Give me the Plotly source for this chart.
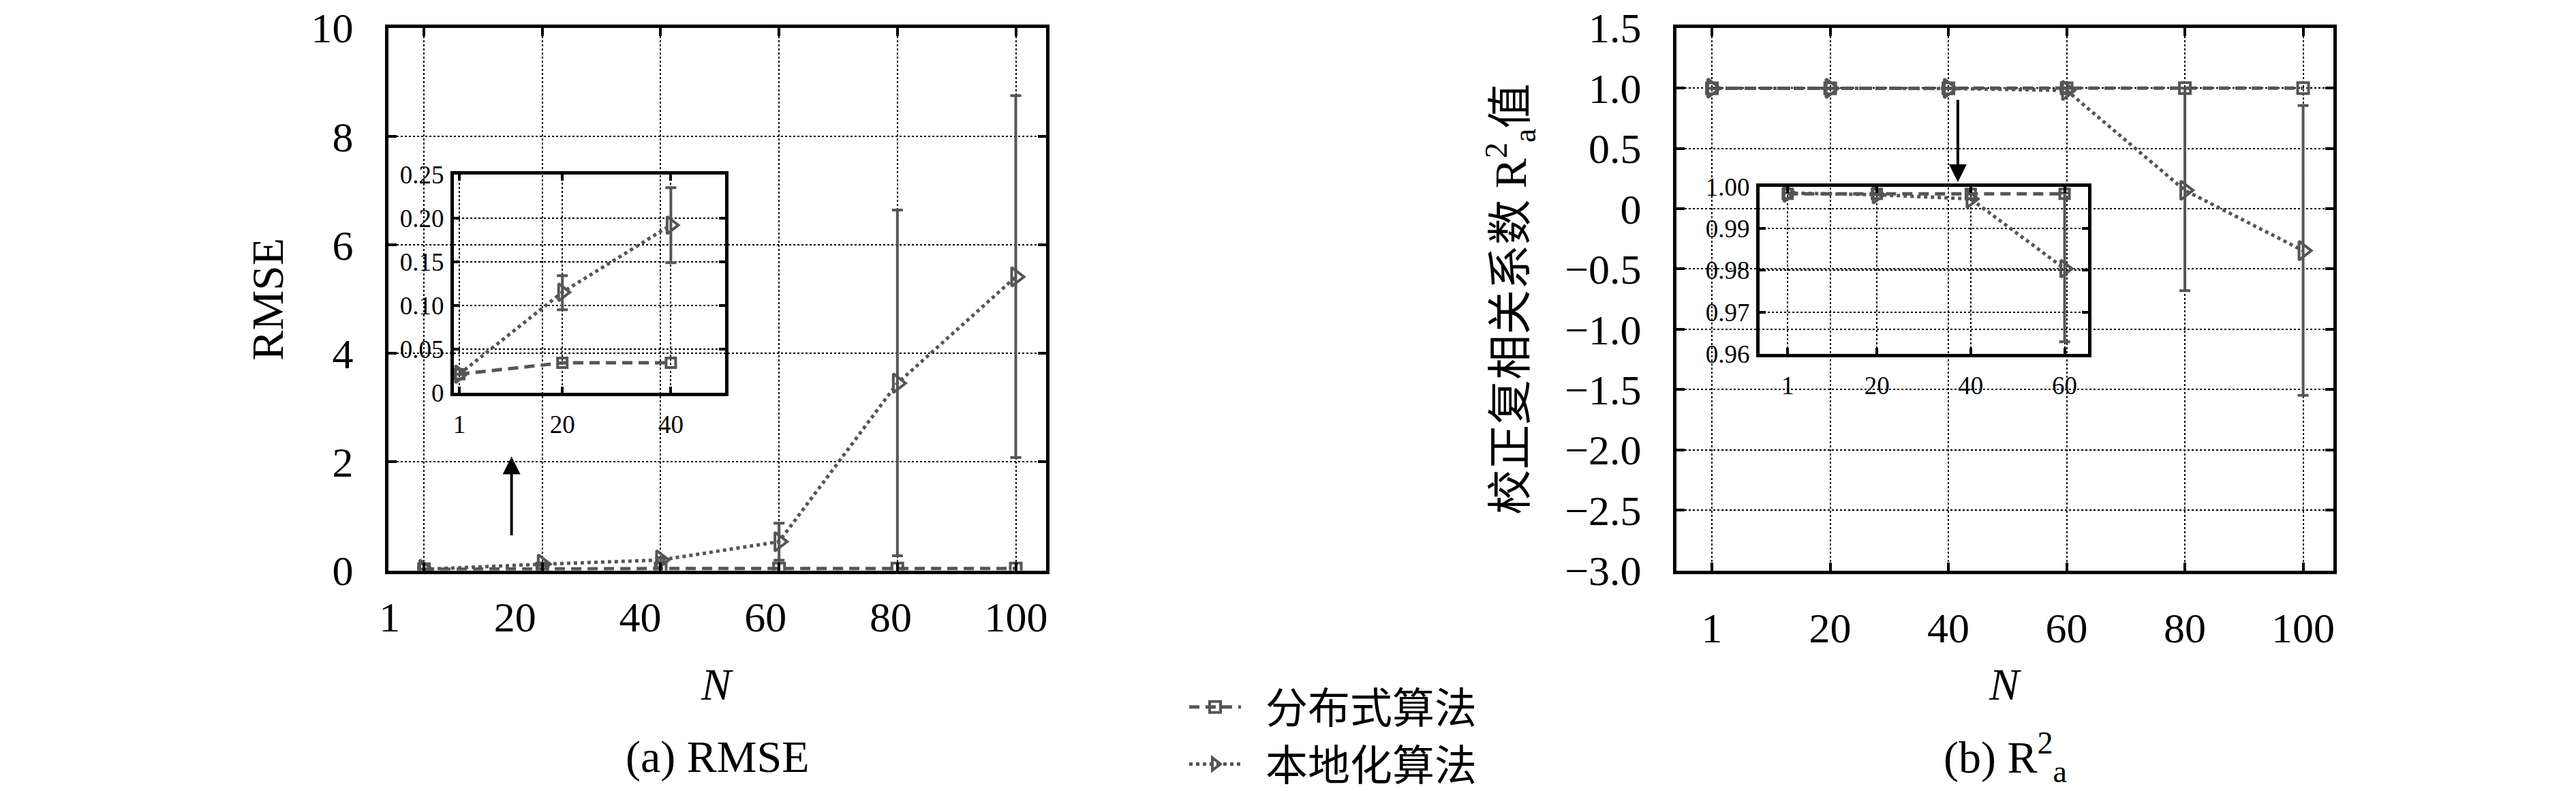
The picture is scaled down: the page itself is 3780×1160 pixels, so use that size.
import plotly.graph_objects as go

# ---- data ----
N_LABELS = ["1", "20", "40", "60", "80", "100"]
N_POS = [0, 1, 2, 3, 4, 5]
N_INSET_A = [1, 20, 40]
N_INSET_B = [1, 20, 40, 60]

rmse_dist = [0.021, 0.034, 0.034, 0.035, 0.035, 0.035]
rmse_local = [0.021, 0.115, 0.192, 0.53, 3.45, 5.41]
rmse_local_hi = [0.021, 0.134, 0.235, 0.87, 6.64, 8.75]
rmse_local_lo = [0.021, 0.095, 0.149, 0.19, 0.27, 2.08]

r2_dist = [0.9983, 0.9983, 0.9983, 0.9983, 0.9995, 0.9995]
r2_local = [0.9985, 0.9981, 0.9971, 0.9804, 0.152, -0.348]
r2_local_hi = [0.9985, 0.9981, 0.9971, 0.9985, 1.0, 0.855]
r2_local_lo = [0.9985, 0.9981, 0.9971, 0.9629, -0.68, -1.548]

RMSE_TICKS = [0, 2, 4, 6, 8, 10]
R2_TICKS = [-3.0, -2.5, -2.0, -1.5, -1.0, -0.5, 0, 0.5, 1.0, 1.5]
R2_TICKTEXT = ["\u22123.0", "\u22122.5", "\u22122.0", "\u22121.5", "\u22121.0",
               "\u22120.5", "0", "0.5", "1.0", "1.5"]
INSET_A_TICKS = [0, 0.05, 0.10, 0.15, 0.20, 0.25]
INSET_A_TICKTEXT = ["0", "0.05", "0.10", "0.15", "0.20", "0.25"]
INSET_B_TICKS = [0.96, 0.97, 0.98, 0.99, 1.00]
INSET_B_TICKTEXT = ["0.96", "0.97", "0.98", "0.99", "1.00"]

NAMES = ["分布式算法", "本地化算法"]

# ---- styling ----
W, H = 3780, 1160
GRAY = "#555555"
FONT = "Liberation Serif, Noto Sans CJK SC, serif"
GAP = "\u2002"  # a little air between legend symbol and label


def dx(a, b):
    return [a / W, b / W]


def dy(top, bottom):
    return [1 - bottom / H, 1 - top / H]


def err(vals, hi, lo):
    return dict(type="data", symmetric=False,
                array=[h - v for v, h in zip(vals, hi)],
                arrayminus=[v - l for v, l in zip(vals, lo)],
                color=GRAY, thickness=4, width=8)


def dist_trace(x, y, xa, ya, legend=False, size=16):
    return go.Scatter(x=x, y=y, xaxis=xa, yaxis=ya, name=GAP + NAMES[0],
                      mode="lines+markers", showlegend=legend,
                      line=dict(color=GRAY, width=5, dash="15px,9px"),
                      marker=dict(symbol="square-open", size=size, color=GRAY,
                                  line=dict(width=4, color=GRAY)))


def local_trace(x, y, e, xa, ya, legend=False, size=24):
    return go.Scatter(x=x, y=y, xaxis=xa, yaxis=ya, name=GAP + NAMES[1],
                      mode="lines+markers", showlegend=legend, error_y=e,
                      line=dict(color=GRAY, width=5, dash="dot"),
                      marker=dict(symbol="triangle-right-open", size=size,
                                  color=GRAY, line=dict(width=4, color=GRAY)))


fig = go.Figure()

# left panel: RMSE
fig.add_trace(dist_trace(N_POS, rmse_dist, "x", "y", legend=True))
fig.add_trace(local_trace(N_POS, rmse_local,
                          err(rmse_local, rmse_local_hi, rmse_local_lo),
                          "x", "y", legend=True))
# tick-label axis of the left panel (labels sit off the grid in the reference)
fig.add_trace(go.Scatter(x=[0], y=[None], xaxis="x5", yaxis="y",
                         showlegend=False, hoverinfo="skip"))
# left inset
k = len(N_INSET_A)
fig.add_trace(dist_trace(N_INSET_A, rmse_dist[:k], "x2", "y2", size=14))
fig.add_trace(local_trace(N_INSET_A, rmse_local[:k],
                          err(rmse_local[:k], rmse_local_hi[:k], rmse_local_lo[:k]),
                          "x2", "y2", size=22))

# right panel: R2
fig.add_trace(dist_trace(N_POS, r2_dist, "x3", "y3"))
fig.add_trace(local_trace(N_POS, r2_local,
                          err(r2_local, r2_local_hi, r2_local_lo), "x3", "y3"))
# right inset
k = len(N_INSET_B)
fig.add_trace(dist_trace(N_INSET_B, r2_dist[:k], "x4", "y4", size=14))
fig.add_trace(local_trace(N_INSET_B, r2_local[:k],
                          err(r2_local[:k], r2_local_hi[:k], r2_local_lo[:k]),
                          "x4", "y4", size=22))

frame = dict(showline=True, linecolor="black", linewidth=5, mirror="ticks",
             ticks="inside", tickcolor="black", tickwidth=4, automargin=False,
             showgrid=True, gridcolor="black", gridwidth=2, griddash="dot",
             zeroline=False, ticklabeloverflow="allow",
             tickfont=dict(family=FONT, size=62, color="black"))
inset = dict(frame, ticklen=9, tickfont=dict(family=FONT, size=37, color="black"))

fig.update_layout(
    template="none",
    width=W, height=H,
    margin=dict(l=0, r=0, t=0, b=0),
    paper_bgcolor="white", plot_bgcolor="rgba(0,0,0,0)",
    font=dict(family=FONT, color="black"),
    xaxis=dict(frame, domain=dx(562, 1527), anchor="y", range=[-0.3, 5.256],
               tickvals=N_POS, showticklabels=False, ticklen=12),
    yaxis=dict(frame, domain=dy(33, 835), anchor="x", range=[0, 10],
               tickvals=RMSE_TICKS, ticklen=12, ticklabelstandoff=34),
    xaxis5=dict(overlaying="x", anchor="y", side="bottom", range=[-0.01, 5.24],
                tickvals=N_POS, ticktext=N_LABELS, showgrid=False, showline=False,
                zeroline=False, ticks="", ticklabelstandoff=26, automargin=False,
                ticklabeloverflow="allow",
                tickfont=dict(family=FONT, size=62, color="black")),
    xaxis2=dict(inset, domain=dx(658, 1056), anchor="y2", range=[0, 50],
                tickvals=N_INSET_A, ticklabelstandoff=10),
    yaxis2=dict(inset, domain=dy(250, 572), anchor="x2", range=[0, 0.25],
                tickvals=INSET_A_TICKS, ticktext=INSET_A_TICKTEXT,
                ticklabelstandoff=2),
    xaxis3=dict(frame, domain=dx(2452, 3416), anchor="y3", range=[-0.3, 5.256],
                tickvals=N_POS, ticktext=N_LABELS, ticklen=12, ticklabelstandoff=26),
    yaxis3=dict(frame, domain=dy(33, 835), anchor="x3", range=[-3.0, 1.5],
                tickvals=R2_TICKS, ticktext=R2_TICKTEXT, ticklen=12,
                ticklabelstandoff=34),
    xaxis4=dict(inset, domain=dx(2574, 3056), anchor="y4", range=[-5, 65],
                tickvals=N_INSET_B, ticklabelstandoff=10),
    yaxis4=dict(inset, domain=dy(268, 515), anchor="x4", range=[0.96, 1.0],
                tickvals=INSET_B_TICKS, ticktext=INSET_B_TICKTEXT,
                ticklabelstandoff=2),
    legend=dict(x=1732 / W, y=1 - 990 / H, xanchor="left", yanchor="top",
                bgcolor="rgba(0,0,0,0)", itemwidth=76, borderwidth=0,
                font=dict(family=FONT, size=62, color="black")),
)

title_font = dict(family=FONT, size=66, color="black")
center = dict(xref="paper", yref="paper", showarrow=False, xanchor="center",
              yanchor="middle", font=title_font)
fig.add_annotation(text="RMSE", x=385 / W, y=1 - 434 / H, textangle=-90, **center)
fig.add_annotation(text="校正复相关系数 R<sup>2</sup><sub>a</sub>值", x=2209 / W,
                   y=1 - 434 / H, textangle=-90, **center)
for cx in (1044, 2934):
    fig.add_annotation(text="<i>N</i>", x=cx / W, y=1 - 1003 / H, **center)
fig.add_annotation(text="(a) RMSE", x=1044 / W, y=1 - 1111 / H, **center)
fig.add_annotation(text="(b) R<sup>2</sup><sub>a</sub>", x=2934 / W, y=1 - 1111 / H,
                   **center)

# arrows pointing at the zoomed regions
fig.add_annotation(x=0.74, y=2.1, ax=0.74, ay=0.63, xref="x", yref="y",
                   axref="x", ayref="y", text="", showarrow=True, arrowhead=2,
                   arrowsize=1.3, arrowwidth=4, arrowcolor="black")
fig.add_annotation(x=2.08, y=0.22, ax=2.08, ay=0.91, xref="x3", yref="y3",
                   axref="x3", ayref="y3", text="", showarrow=True, arrowhead=2,
                   arrowsize=1.3, arrowwidth=4, arrowcolor="black")

fig.write_html("out.html")
